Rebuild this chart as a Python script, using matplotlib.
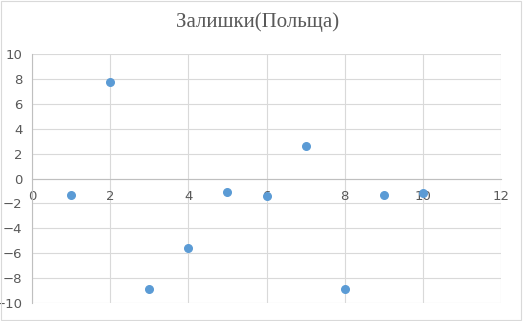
import matplotlib.pyplot as plt
from matplotlib.patches import Rectangle

# residuals data
x = [1, 2, 3, 4, 5, 6, 7, 8, 9, 10]
y = [-1.29, 7.77, -8.86, -5.57, -1.07, -1.39, 2.62, -8.86, -1.31, -1.2]

xticks = [0, 2, 4, 6, 8, 10, 12]
yticks = [-10, -8, -6, -4, -2, 0, 2, 4, 6, 8, 10]

fig = plt.figure(figsize=(5.28, 3.21), dpi=100)
ax = fig.add_axes([32/528, 18/321, 469/528, 249/321])

# chart border
fig.patches.append(Rectangle((0.002, 0.004), 0.985, 0.992, transform=fig.transFigure,
                             fill=False, edgecolor='#d9d9d9', linewidth=0.8))

ax.scatter(x, y, s=30, color='#5b9bd5', zorder=3)

ax.set_xlim(0, 12)
ax.set_ylim(-10, 10)
ax.set_xticks(xticks)
ax.set_yticks(yticks)
ax.grid(True, color='#d9d9d9', linewidth=0.8)
ax.set_axisbelow(True)

for s in ['top', 'right']:
    ax.spines[s].set_visible(False)
ax.spines['bottom'].set_position(('data', 0))
ax.spines['bottom'].set_color('#bfbfbf')
ax.spines['left'].set_color('#bfbfbf')
ax.tick_params(length=0, labelsize=9.5, colors='#595959')
ax.tick_params(axis='x', pad=8)
ax.tick_params(axis='y', pad=7)
for lbl in ax.get_xticklabels() + ax.get_yticklabels():
    lbl.set_family(['Liberation Sans Narrow', 'DejaVu Sans'])

fig.text(258/528, 1 - 22/321, 'Залишки(Польща)', ha='center', va='center',
         fontsize=15, color='#595959', family=['Liberation Serif', 'DejaVu Serif'])

fig.savefig('out.png', dpi=100)
